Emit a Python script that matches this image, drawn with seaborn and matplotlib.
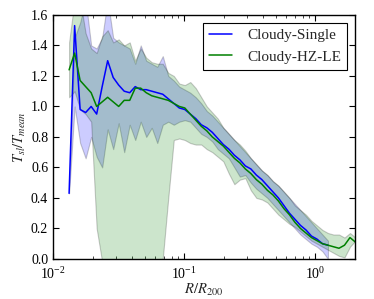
import matplotlib
matplotlib.use("Agg")
import numpy as np
import pandas as pd
import matplotlib.pyplot as plt
import seaborn as sns

# radial bins (R/R200)
r_bins = [0.01324, 0.01459, 0.01607, 0.01770, 0.01950, 0.02148, 0.02366, 0.02606,
          0.02871, 0.03162, 0.03483, 0.03837, 0.04227, 0.04656, 0.05129, 0.05649,
          0.06223, 0.06855, 0.07551, 0.08317, 0.09162, 0.1009, 0.1111, 0.1224,
          0.1348, 0.1485, 0.1636, 0.1802, 0.1985, 0.2187, 0.2409, 0.2653,
          0.2922, 0.3219, 0.3546, 0.3906, 0.4303, 0.4739, 0.5221, 0.5751,
          0.6335, 0.6978, 0.7686, 0.8466, 0.9325, 1.027, 1.131, 1.246,
          1.372, 1.512, 1.665, 1.834, 2.020]

# Cloudy-Single: mean and spread
single_mean = [0.43, 1.53, 0.98, 0.96, 1.00, 0.95, 1.13, 1.30, 1.19, 1.14,
               1.10, 1.09, 1.13, 1.11, 1.11, 1.10, 1.09, 1.08, 1.05, 1.02,
               0.99, 0.98, 0.95, 0.92, 0.88, 0.86, 0.83, 0.79, 0.75, 0.72,
               0.68, 0.65, 0.61, 0.59, 0.55, 0.52, 0.48, 0.44, 0.40, 0.35,
               0.30, 0.26, 0.22, 0.19, 0.15, 0.13, 0.10, 0.09]
single_lo = [0.43, 1.00, 0.76, 0.66, 0.80, 0.67, 0.60, 0.85, 0.72, 0.89,
             0.70, 0.88, 0.78, 0.90, 0.80, 0.86, 0.76, 0.88, 0.90, 0.88,
             0.90, 0.91, 0.90, 0.86, 0.82, 0.80, 0.77, 0.72, 0.69, 0.66,
             0.60, 0.54, 0.55, 0.50, 0.46, 0.43, 0.40, 0.36, 0.32, 0.28,
             0.24, 0.20, 0.16, 0.13, 0.10, 0.08, 0.05, 0.00]
single_hi = [0.43, 1.45, 1.55, 1.70, 1.40, 1.38, 1.45, 1.70, 1.45, 1.42,
             1.40, 1.38, 1.28, 1.40, 1.30, 1.28, 1.26, 1.33, 1.20, 1.17,
             1.13, 1.11, 1.09, 1.06, 1.02, 0.97, 0.94, 0.90, 0.86, 0.82,
             0.78, 0.74, 0.70, 0.66, 0.62, 0.58, 0.55, 0.51, 0.48, 0.44,
             0.40, 0.36, 0.32, 0.28, 0.24, 0.20, 0.16, 0.12]

# Cloudy-HZ-LE: mean and spread
hz_mean = [1.24, 1.35, 1.17, 1.13, 1.09, 1.00, 1.03, 1.06, 1.03, 1.00,
           1.04, 1.04, 1.12, 1.12, 1.09, 1.07, 1.06, 1.05, 1.04, 1.02,
           1.00, 0.99, 0.95, 0.91, 0.87, 0.84, 0.80, 0.77, 0.74, 0.70,
           0.66, 0.63, 0.59, 0.56, 0.52, 0.49, 0.45, 0.42, 0.38, 0.33,
           0.29, 0.24, 0.20, 0.17, 0.14, 0.12, 0.10, 0.09, 0.08, 0.07,
           0.09, 0.14, 0.11]
hz_lo = [1.06, 1.10, 0.98, 0.95, 0.90, 0.20, -0.02, -0.05, -0.05, -0.05,
         -0.05, -0.05, -0.05, -0.05, -0.05, -0.05, -0.05, 0.00, 0.40, 0.78,
         0.79, 0.78, 0.76, 0.75, 0.75, 0.72, 0.70, 0.67, 0.64, 0.56,
         0.49, 0.52, 0.53, 0.45, 0.40, 0.39, 0.37, 0.33, 0.29, 0.26,
         0.23, 0.21, 0.18, 0.15, 0.12, 0.10, 0.08, 0.06, 0.04, 0.02,
         0.01, 0.08, 0.12]
hz_hi = [1.42, 1.70, 1.70, 1.48, 1.38, 1.35, 1.46, 1.50, 1.42, 1.44,
         1.40, 1.42, 1.30, 1.38, 1.32, 1.29, 1.28, 1.28, 1.22, 1.20,
         1.15, 1.14, 1.16, 1.12, 1.06, 1.00, 0.96, 0.92, 0.86, 0.82,
         0.78, 0.75, 0.71, 0.66, 0.62, 0.58, 0.55, 0.51, 0.48, 0.44,
         0.40, 0.35, 0.32, 0.29, 0.25, 0.22, 0.19, 0.17, 0.16, 0.16,
         0.14, 0.17, 0.14]

sns.set_style("ticks")
plt.rcParams["font.family"] = ["Liberation Serif", "DejaVu Serif"]
plt.rcParams["mathtext.fontset"] = "stix"
plt.rcParams["xtick.direction"] = "in"
plt.rcParams["ytick.direction"] = "in"
plt.rcParams["xtick.top"] = True
plt.rcParams["ytick.right"] = True
plt.rcParams["xtick.major.size"] = 4
plt.rcParams["ytick.major.size"] = 4
plt.rcParams["xtick.minor.size"] = 2
plt.rcParams["ytick.minor.size"] = 2
plt.rcParams["xtick.major.pad"] = 5

n_single = len(single_mean)
single = pd.DataFrame({"R": r_bins[:n_single], "T": single_mean,
                       "lo": single_lo, "hi": single_hi})
hz = pd.DataFrame({"R": r_bins, "T": hz_mean, "lo": hz_lo, "hi": hz_hi})

fig = plt.figure(figsize=(3.74, 2.99), dpi=100)
ax = fig.add_axes([0.142, 0.134, 0.807, 0.816])

ax.fill_between(single["R"], single["lo"], single["hi"], facecolor="b",
                edgecolor="k", alpha=0.2, linewidth=0.8)
ax.fill_between(hz["R"], hz["lo"], hz["hi"], facecolor="g",
                edgecolor="k", alpha=0.2, linewidth=0.8)

sns.lineplot(data=single, x="R", y="T", color="b", lw=1.1,
             label="Cloudy-Single", ax=ax)
sns.lineplot(data=hz, x="R", y="T", color="g", lw=1.1,
             label="Cloudy-HZ-LE", ax=ax)

ax.set_xscale("log")
ax.set_xlim(0.01, 2.0)
ax.set_ylim(0.0, 1.6)
ax.set_yticks(np.arange(0, 1.61, 0.2))
ax.set_yticklabels(["%.1f" % v for v in np.arange(0, 1.61, 0.2)])
ax.tick_params(labelsize=10, colors="k")
for s in ax.spines.values():
    s.set_color("k")
    s.set_linewidth(1.0)

ax.set_xlabel(r"$R/R_{200}$", fontsize=10.5, labelpad=0)
ax.set_ylabel(r"$T_{sl}/T_{mean}$", fontsize=10.5, labelpad=2)

leg = ax.legend(loc="upper right", fontsize=11, fancybox=False,
                framealpha=1, edgecolor="k", borderaxespad=0.5,
                handlelength=1.5, handletextpad=1.0)
leg.get_frame().set_linewidth(0.8)

fig.savefig("out.png", dpi=100)
